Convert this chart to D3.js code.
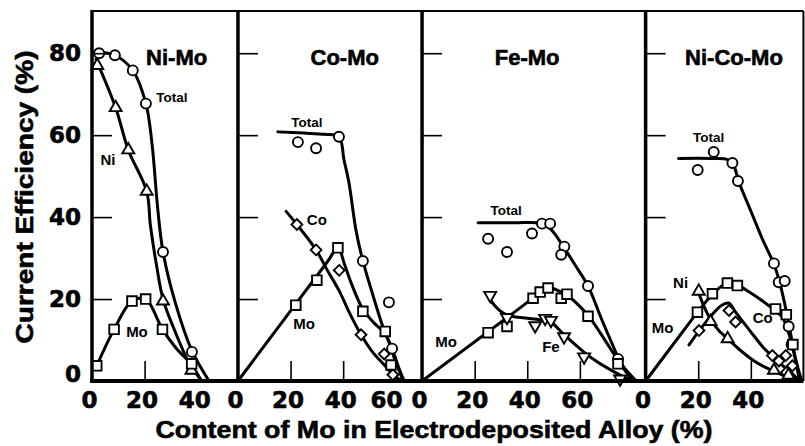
<!DOCTYPE html>
<html>
<head>
<meta charset="utf-8">
<script src="https://cdn.jsdelivr.net/npm/d3@7"></script>
<style>
    body { margin: 0; background: #fff; }
    svg text { font-family: "Liberation Sans", Arial, sans-serif; font-weight: bold; fill: #000; }
    .heavy { stroke: #000; stroke-width: 0.6px; }
</style>
</head>
<body>
<svg id="chart" width="805" height="446"></svg>
<script>
// panels
const panelNames = ["Ni-Mo", "Co-Mo", "Fe-Mo", "Ni-Co-Mo"];
const panelMaxMo = [55.5, 70, 85, 60];
const xTickLabels = [[0, 20, 40], [0, 20, 40, 60], [0, 20, 40, 60], [0, 20, 40]];
const xInnerTicks = [[20], [20, 40], [20, 40, 60], [20, 40]];
const yTicks = [0, 20, 40, 60, 80];

// Ni-Mo  (measured points, then hand drawn curve)
const niMoTotal = [[2.7, 80], [8.7, 79.5], [15.5, 75.8], [20.5, 67.7], [27, 31.5], [38, 7.1]];
const niMoTotalCurve = [[1, 80.3], [8.7, 79.5], [15.5, 75.8], [20.5, 67.7], [22.8, 58], [25, 42], [27, 31.5], [31.5, 19.5], [38, 7.4], [44.5, 0]];
const niMoNi = [[2, 77], [9, 66.7], [13.8, 56.4], [20.8, 46.3], [27, 19.5], [37.8, 2.6]];
const niMoNiCurve = [[1.5, 78.5], [9, 66.7], [13.8, 56.4], [20.8, 46.3], [22.2, 38], [24.6, 28], [27, 20], [31, 13], [37.6, 3.6], [42, 0]];
const niMoMo = [[1.8, 3.7], [8.4, 12.6], [15.2, 19.5], [20.4, 20], [26.8, 12.6], [37.9, 4.2]];
const niMoMoCurve = [[1.8, 3.7], [8.4, 12.6], [15.2, 19.5], [20.4, 20], [26.8, 12.6], [32, 8], [37.9, 3.9], [41.5, 0]];

// Co-Mo
const coMoTotal = [[22.8, 58.3], [29.7, 56.8], [38.4, 59.6], [47.5, 29.3], [57.4, 19.2], [58.6, 7.9]];
const coMoTotalCurve = [[15.2, 60.8], [25, 60.5], [33, 60.2], [38.4, 59.6], [40.3, 54], [42.2, 48.4], [44.9, 36.7], [47.5, 29.3], [52, 19.5], [55.5, 12.5], [58.6, 7.9], [61, 3.5], [63.2, 0]];
const coMoCo = [[22.4, 38.2], [29.7, 32], [38.5, 27], [46.8, 11.3], [55.6, 6.6], [58.9, 1.5]];
const coMoCoCurve = [[18.3, 41.4], [22.4, 38.2], [29.7, 32], [34, 27], [38.5, 22], [42.5, 16.5], [46.8, 11.3], [51.5, 6.8], [55.5, 4], [59, 1.5], [62.3, 0]];
const coMoMo = [[22, 18.5], [30, 24.6], [38, 32.5], [47.5, 17], [56, 12.1], [58.2, 3.9]];
const coMoMoCurve = [[0, 0], [34, 29.1], [38, 32.5], [40.5, 28.5], [43, 24], [47.5, 17.5], [52, 14], [56, 11.5], [59.5, 5.5], [62.8, 0]];

// Fe-Mo
const feMoTotal = [[25.1, 34.7], [32.3, 31.5], [41.8, 36], [45.6, 38.4], [48.7, 38.4], [54.1, 32.8], [52.9, 30.8], [63.1, 23.2], [74.5, 5.4]];
const feMoTotalCurve = [[21.3, 38.6], [35, 38.6], [45, 38.5], [49, 37], [54, 32.5], [58.5, 28], [63.1, 23.2], [68, 15.5], [72, 9.5], [76, 4], [81.5, 0]];
const feMoMo = [[25.1, 11.8], [32.3, 13.3], [42.2, 20.2], [44.9, 21.7], [47.9, 22.7], [52.9, 20.2], [55.1, 21.2], [63.1, 15.8], [74.5, 4.2]];
const feMoMoCurve = [[0, 0], [40, 19.2], [44.9, 21.7], [48, 22.8], [52, 22], [56, 20.5], [63.1, 16], [68, 11.5], [74, 5.5], [80, 0]];
const feMoFe = [[25.9, 20.9], [32.3, 15.5], [43, 13.5], [46.8, 15.3], [49, 14.8], [54, 10.8], [61.6, 5.9], [75.3, 0.5]];
const feMoFeCurve = [[24.5, 21.5], [27.5, 18.5], [31, 16.5], [35, 15.7], [40, 15.3], [45, 14.9], [49, 14.3], [54, 11.3], [58, 9], [62, 6.8], [67, 4.5], [72, 2.6], [76, 1.2], [80.5, 0]];

// Ni-Co-Mo
const niCoMoTotal = [[19.8, 51.5], [25.9, 55.9], [33, 53.2], [35.1, 48.8], [48.8, 28.7], [50.6, 24.1], [52.9, 24.4], [54.4, 13.3], [55.5, 8.9]];
const niCoMoTotalCurve = [[12.5, 54.3], [25, 54.3], [31.2, 54], [33.5, 52.5], [35.5, 48.5], [40, 41.5], [44.5, 34.5], [48.8, 28.5], [51, 24], [53, 18.5], [55, 12], [57, 5.5], [59.3, 0]];
const niCoMoMo = [[19.7, 16.8], [25.4, 21.3], [31.1, 23.9], [34.9, 23.3], [49.4, 17.6], [53.5, 16.2], [56, 8.9]];
const niCoMoMoCurve = [[0, 0], [17, 14.5], [19.4, 16.5], [25.5, 21.2], [30.5, 23.7], [35, 23.3], [40, 21.5], [45, 19.3], [49, 17.3], [52, 15.5], [54.5, 11.5], [56.5, 6.5], [58.5, 0]];
const niCoMoCo = [[20.3, 12.3], [31.7, 17.2], [34.2, 14.4], [48.2, 6.2], [50.7, 4.9], [53.3, 6.2], [55.8, 3.7], [53.5, 2.1]];
const niCoMoCoCurve = [[16.5, 8.8], [20.2, 12.1], [25, 16], [29, 18.5], [31.7, 19], [34, 17], [40, 12], [45, 8], [48.3, 6], [52, 3.8], [55.5, 2], [58.3, 0]];
const niCoMoNi = [[20.2, 21.9], [24.7, 14.5], [31.2, 10.3], [48.8, 2.6], [54.3, 1.4]];
const niCoMoNiCurve = [[19.6, 22.5], [22, 18.5], [24.7, 15], [28, 12.2], [31.2, 10.3], [36, 7.5], [41, 5], [45, 3.5], [49, 2.3], [53, 1.2], [57.5, 0]];

const series = [
    {panel: 0, shape: "circle", pts: niMoTotal, curve: niMoTotalCurve},
    {panel: 0, shape: "triUp", pts: niMoNi, curve: niMoNiCurve},
    {panel: 0, shape: "square", pts: niMoMo, curve: niMoMoCurve},
    {panel: 1, shape: "circle", pts: coMoTotal, curve: coMoTotalCurve},
    {panel: 1, shape: "diamond", pts: coMoCo, curve: coMoCoCurve},
    {panel: 1, shape: "square", pts: coMoMo, curve: coMoMoCurve},
    {panel: 2, shape: "circle", pts: feMoTotal, curve: feMoTotalCurve},
    {panel: 2, shape: "square", pts: feMoMo, curve: feMoMoCurve},
    {panel: 2, shape: "triDown", pts: feMoFe, curve: feMoFeCurve},
    {panel: 3, shape: "circle", pts: niCoMoTotal, curve: niCoMoTotalCurve},
    {panel: 3, shape: "square", pts: niCoMoMo, curve: niCoMoMoCurve},
    {panel: 3, shape: "diamond", pts: niCoMoCo, curve: niCoMoCoCurve},
    {panel: 3, shape: "triUp", pts: niCoMoNi, curve: niCoMoNiCurve}
];

// curve labels, in data units of their panel
const labels = [
    [0, "Total", 30.4, 69.3], [0, "Ni", 6.1, 53.9], [0, "Mo", 17.1, 12],
    [1, "Total", 26.2, 63.2], [1, "Co", 30, 39.3], [1, "Mo", 25.1, 13.9],
    [2, "Total", 32, 41.7], [2, "Mo", 9.1, 9.5], [2, "Fe", 49, 8.3],
    [3, "Total", 24, 59.5], [3, "Ni", 13.3, 23.9], [3, "Mo", 6.5, 12.9], [3, "Co", 44.5, 15.4]
];

const svg = d3.select("#chart");
const pxPerMo = 2.63;
const left0 = 92;
const lefts = [];
let acc = left0;
panelMaxMo.forEach(m => { lefts.push(acc); acc += m * pxPerMo; });
const rightEnd = acc;

const xs = panelMaxMo.map((m, i) => d3.scaleLinear().domain([0, m]).range([lefts[i], lefts[i] + m * pxPerMo]));
const y = d3.scaleLinear().domain([0, 90.3]).range([381, 11]);

// curves
const line = d3.line()
    .x(d => d[0]).y(d => d[1])
    .curve(d3.curveCatmullRom.alpha(0.5));

series.forEach(s => {
    const x = xs[s.panel];
    svg.append("path")
        .attr("d", line(s.curve.map(d => [x(d[0]), y(d[1])])))
        .attr("fill", "none")
        .attr("stroke", "#000")
        .attr("stroke-width", 3)
        .attr("stroke-linejoin", "round")
        .attr("stroke-linecap", "round");
});

// markers
const sym = {
    square: d3.symbol().type(d3.symbolSquare).size(92),
    diamond: d3.symbol().type(d3.symbolSquare).size(58),
    triUp: d3.symbol().type(d3.symbolTriangle).size(62),
    triDown: d3.symbol().type(d3.symbolTriangle).size(62)
};
const rot = {square: 0, diamond: 45, triUp: 0, triDown: 180};

series.forEach(s => {
    const x = xs[s.panel];
    const g = svg.append("g")
        .attr("fill", "#fff")
        .attr("stroke", "#000")
        .attr("stroke-width", 1.9);
    if (s.shape === "circle") {
        g.selectAll("circle").data(s.pts).join("circle")
            .attr("cx", d => x(d[0]))
            .attr("cy", d => y(d[1]))
            .attr("r", 5);
    } else {
        g.selectAll("path").data(s.pts).join("path")
            .attr("d", sym[s.shape]())
            .attr("transform", d => "translate(" + x(d[0]) + "," + y(d[1]) + ") rotate(" + rot[s.shape] + ")");
    }
});

// axes / frame
xs.forEach((x, i) => {
    // inner y ticks
    svg.append("g")
        .attr("transform", "translate(" + lefts[i] + ",0)")
        .call(d3.axisLeft(y).tickValues(yTicks.slice(1)).tickSize(-20).tickFormat(""))
        .call(g => g.select(".domain").remove())
        .call(g => g.selectAll("line").attr("stroke-width", 1.6));

    // inner x ticks
    svg.append("g")
        .attr("transform", "translate(0,381)")
        .call(d3.axisBottom(x).tickValues(xInnerTicks[i]).tickSize(-20).tickFormat(""))
        .call(g => g.select(".domain").remove())
        .call(g => g.selectAll("line").attr("stroke-width", 1.6));

    // x tick labels, nudged left when squeezed against the next panel
    const right = x.range()[1];
    svg.append("g")
        .attr("transform", "translate(0,381)")
        .call(d3.axisBottom(x).tickValues(xTickLabels[i]).tickSize(0).tickPadding(11).tickFormat(d3.format("d")))
        .call(g => g.select(".domain").remove())
        .call(g => g.selectAll("text")
            .attr("class", "heavy")
            .attr("font-size", 23)
            .attr("dx", d => Math.min(-3, right - x(d) - 36))
            .style("font-family", "'DejaVu Sans', sans-serif")
            .style("font-weight", "bold"));

    // panel name
    svg.append("text")
        .attr("class", "heavy")
        .attr("x", x(panelMaxMo[i] * (i === 3 ? 0.56 : i === 2 ? 0.47 : 0.58)))
        .attr("y", y(79))
        .attr("dy", "0.35em")
        .attr("text-anchor", "middle")
        .attr("font-size", 22)
        .text(panelNames[i]);

    // left edge of panel
    svg.append("line")
        .attr("x1", lefts[i]).attr("x2", lefts[i])
        .attr("y1", 10).attr("y2", 383)
        .attr("stroke", "#000").attr("stroke-width", 3.5);
});

// y tick labels on first panel
svg.append("g")
    .attr("transform", "translate(" + left0 + ",0)")
    .call(d3.axisLeft(y).tickValues(yTicks).tickSize(0).tickPadding(11).tickFormat(d3.format("d")))
    .call(g => g.select(".domain").remove())
    .call(g => g.selectAll("text")
        .attr("class", "heavy")
        .attr("font-size", 23)
        .attr("dy", d => d === 0 ? "0em" : "0.32em")
        .style("font-family", "'DejaVu Sans', sans-serif")
        .style("font-weight", "bold"));

// top, bottom and right frame
svg.append("line").attr("x1", left0).attr("x2", rightEnd).attr("y1", 11).attr("y2", 11)
    .attr("stroke", "#000").attr("stroke-width", 2);
svg.append("line").attr("x1", left0 - 2).attr("x2", rightEnd).attr("y1", 381).attr("y2", 381)
    .attr("stroke", "#000").attr("stroke-width", 4);
svg.append("line").attr("x1", rightEnd).attr("x2", rightEnd).attr("y1", 11).attr("y2", 381)
    .attr("stroke", "#000").attr("stroke-width", 2);

// curve labels
labels.forEach(l => {
    svg.append("text")
        .attr("x", xs[l[0]](l[2]))
        .attr("y", y(l[3]))
        .attr("dy", "0.35em")
        .attr("text-anchor", "middle")
        .attr("font-size", l[1] === "Total" ? 13.5 : 15)
        .text(l[1]);
});

// axis titles
svg.append("text")
    .attr("class", "heavy")
    .attr("transform", "translate(33,197) rotate(-90)")
    .attr("text-anchor", "middle")
    .attr("font-size", 24)
    .attr("textLength", 293)
    .attr("lengthAdjust", "spacingAndGlyphs")
    .text("Current Efficiency (%)");

svg.append("text")
    .attr("class", "heavy")
    .attr("x", 434)
    .attr("y", 438)
    .attr("text-anchor", "middle")
    .attr("font-size", 24)
    .attr("textLength", 557)
    .attr("lengthAdjust", "spacingAndGlyphs")
    .text("Content of Mo in Electrodeposited Alloy (%)");
</script>
</body>
</html>
